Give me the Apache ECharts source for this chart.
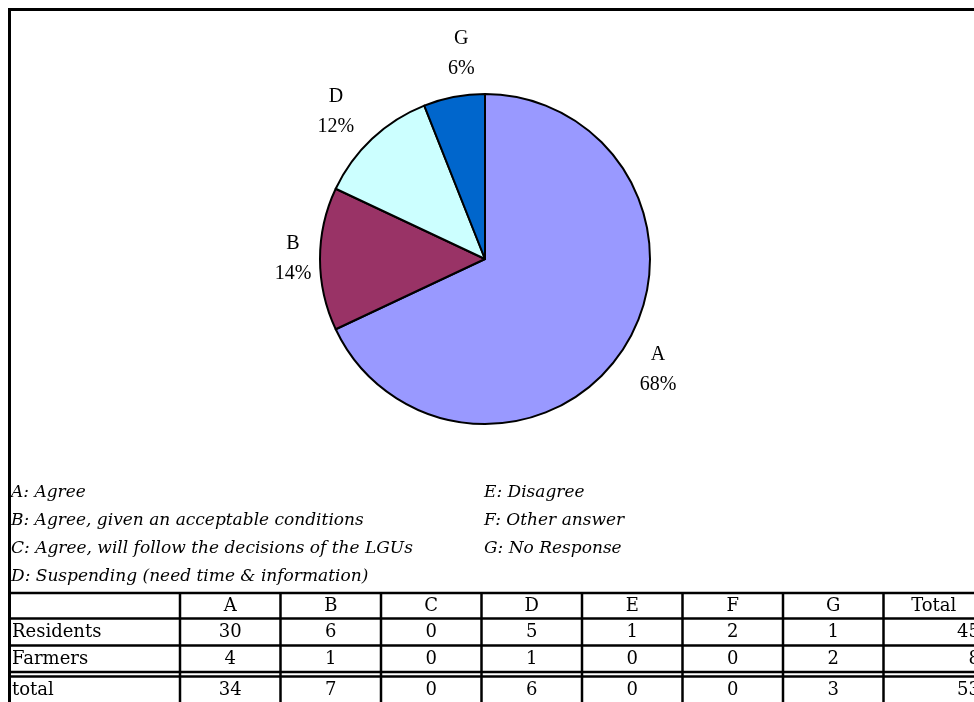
<!DOCTYPE html>
<html>
<head>
<meta charset="utf-8">
<script src="https://cdn.jsdelivr.net/npm/echarts@6/dist/echarts.min.js"></script>
<style>
html,body{margin:0;padding:0;background:#fff;}
#chart{width:974px;height:702px;}
</style>
</head>
<body>
<div id="chart"></div>
<script>
// ---- data ----
const categories = ['A', 'B', 'C', 'D', 'E', 'F', 'G'];
const residents = [30, 6, 0, 5, 1, 2, 1];
const farmers = [4, 1, 0, 1, 0, 0, 2];
const totals = [34, 7, 0, 6, 0, 0, 3];
const rowNames = ['Residents', 'Farmers', 'total'];
const rowTotals = [45, 8, 53];
const totalHeader = 'Total';
const legendLeft = ['A: Agree', 'B: Agree, given an acceptable conditions', 'C: Agree, will follow the decisions of the LGUs', 'D: Suspending (need time & information)'];
const legendRight = ['E: Disagree', 'F: Other answer', 'G: No Response'];

// ---- styles ----
const sliceColors = { A: '#9999FF', B: '#993366', C: '#FFFFCC', D: '#CCFFFF', E: '#660066', F: '#FF8080', G: '#0066CC' };
const labelGap = { A: 40, B: 27, D: 44, G: 42 };
const labelNudge = { A: [0, 1], B: [0, 0], D: [-6, 5], G: [15, -2] };
const serifLabel = '"Liberation Serif", "Times New Roman", serif';
const serifTable = '"DejaVu Serif", serif';

const pieData = categories.map((c, i) => ({ name: c, value: totals[i] }))
  .filter(d => d.value > 0)
  .map(d => ({
    name: d.name, value: d.value,
    itemStyle: { color: sliceColors[d.name] },
    labelLine: { show: false, length: labelGap[d.name], length2: 0 }
  }));

const graphics = [];
// outer border (top + left)
graphics.push({ type: 'line', shape: { x1: 8, y1: 9.5, x2: 980, y2: 9.5 }, style: { stroke: '#000', lineWidth: 3 } });
graphics.push({ type: 'line', shape: { x1: 9.5, y1: 8, x2: 9.5, y2: 710 }, style: { stroke: '#000', lineWidth: 3 } });

// legend text
const legendY0 = 493, legendDy = 28;
const lFont = 'italic 17px ' + serifTable;
legendLeft.forEach((t, i) => graphics.push({
  type: 'text', x: 11, y: legendY0 + i * legendDy,
  style: { text: t, font: lFont, fill: '#000', textVerticalAlign: 'middle', textAlign: 'left' }
}));
legendRight.forEach((t, i) => graphics.push({
  type: 'text', x: 484, y: legendY0 + i * legendDy,
  style: { text: t, font: lFont, fill: '#000', textVerticalAlign: 'middle', textAlign: 'left' }
}));

// table
const colX = [9.5, 180, 280.5, 381, 481.5, 582, 682.5, 783, 883.5, 984];
const rowTextY = [606, 632, 659, 690];
const tFont = '18px ' + serifTable;
[593, 618.5, 645.5, 672, 676.5].forEach(y => graphics.push({
  type: 'line', shape: { x1: 9.5, y1: y, x2: 990, y2: y }, style: { stroke: '#000', lineWidth: 2.5 }
}));
colX.slice(1).forEach(x => graphics.push({
  type: 'line', shape: { x1: x, y1: 593, x2: x, y2: 710 }, style: { stroke: '#000', lineWidth: 2.5 }
}));
categories.forEach((c, i) => graphics.push({
  type: 'text', x: (colX[i + 1] + colX[i + 2]) / 2, y: rowTextY[0],
  style: { text: c, font: tFont, fill: '#000', textAlign: 'center', textVerticalAlign: 'middle' }
}));
graphics.push({
  type: 'text', x: (colX[8] + colX[9]) / 2, y: rowTextY[0],
  style: { text: totalHeader, font: tFont, fill: '#000', textAlign: 'center', textVerticalAlign: 'middle' }
});
[residents, farmers, totals].forEach((row, r) => {
  graphics.push({
    type: 'text', x: 12, y: rowTextY[r + 1],
    style: { text: rowNames[r], font: tFont, fill: '#000', textAlign: 'left', textVerticalAlign: 'middle' }
  });
  row.forEach((v, i) => graphics.push({
    type: 'text', x: (colX[i + 1] + colX[i + 2]) / 2, y: rowTextY[r + 1],
    style: { text: String(v), font: tFont, fill: '#000', textAlign: 'center', textVerticalAlign: 'middle' }
  }));
  graphics.push({
    type: 'text', x: colX[9] - 4, y: rowTextY[r + 1],
    style: { text: String(rowTotals[r]), font: tFont, fill: '#000', textAlign: 'right', textVerticalAlign: 'middle' }
  });
});

const chart = echarts.init(document.getElementById('chart'), null, { renderer: 'canvas' });
chart.setOption({
  backgroundColor: '#fff',
  animation: false,
  graphic: graphics,
  series: [{
    type: 'pie',
    center: [485, 259],
    radius: 165,
    startAngle: 90,
    clockwise: true,
    avoidLabelOverlap: false,
    data: pieData,
    itemStyle: { borderColor: '#000', borderWidth: 2 },
    emphasis: { disabled: true },
    label: {
      show: true,
      position: 'outside',
      distanceToLabelLine: 0,
      formatter: p => p.name + '\n' + Math.round(p.percent) + '%',
      fontFamily: serifLabel,
      fontSize: 20,
      lineHeight: 30,
      color: '#000'
    },
    labelLayout: p => {
      const n = pieData[p.dataIndex].name;
      return { align: 'center', verticalAlign: 'middle', dx: labelNudge[n][0], dy: labelNudge[n][1] };
    }
  }]
});
</script>
</body>
</html>
